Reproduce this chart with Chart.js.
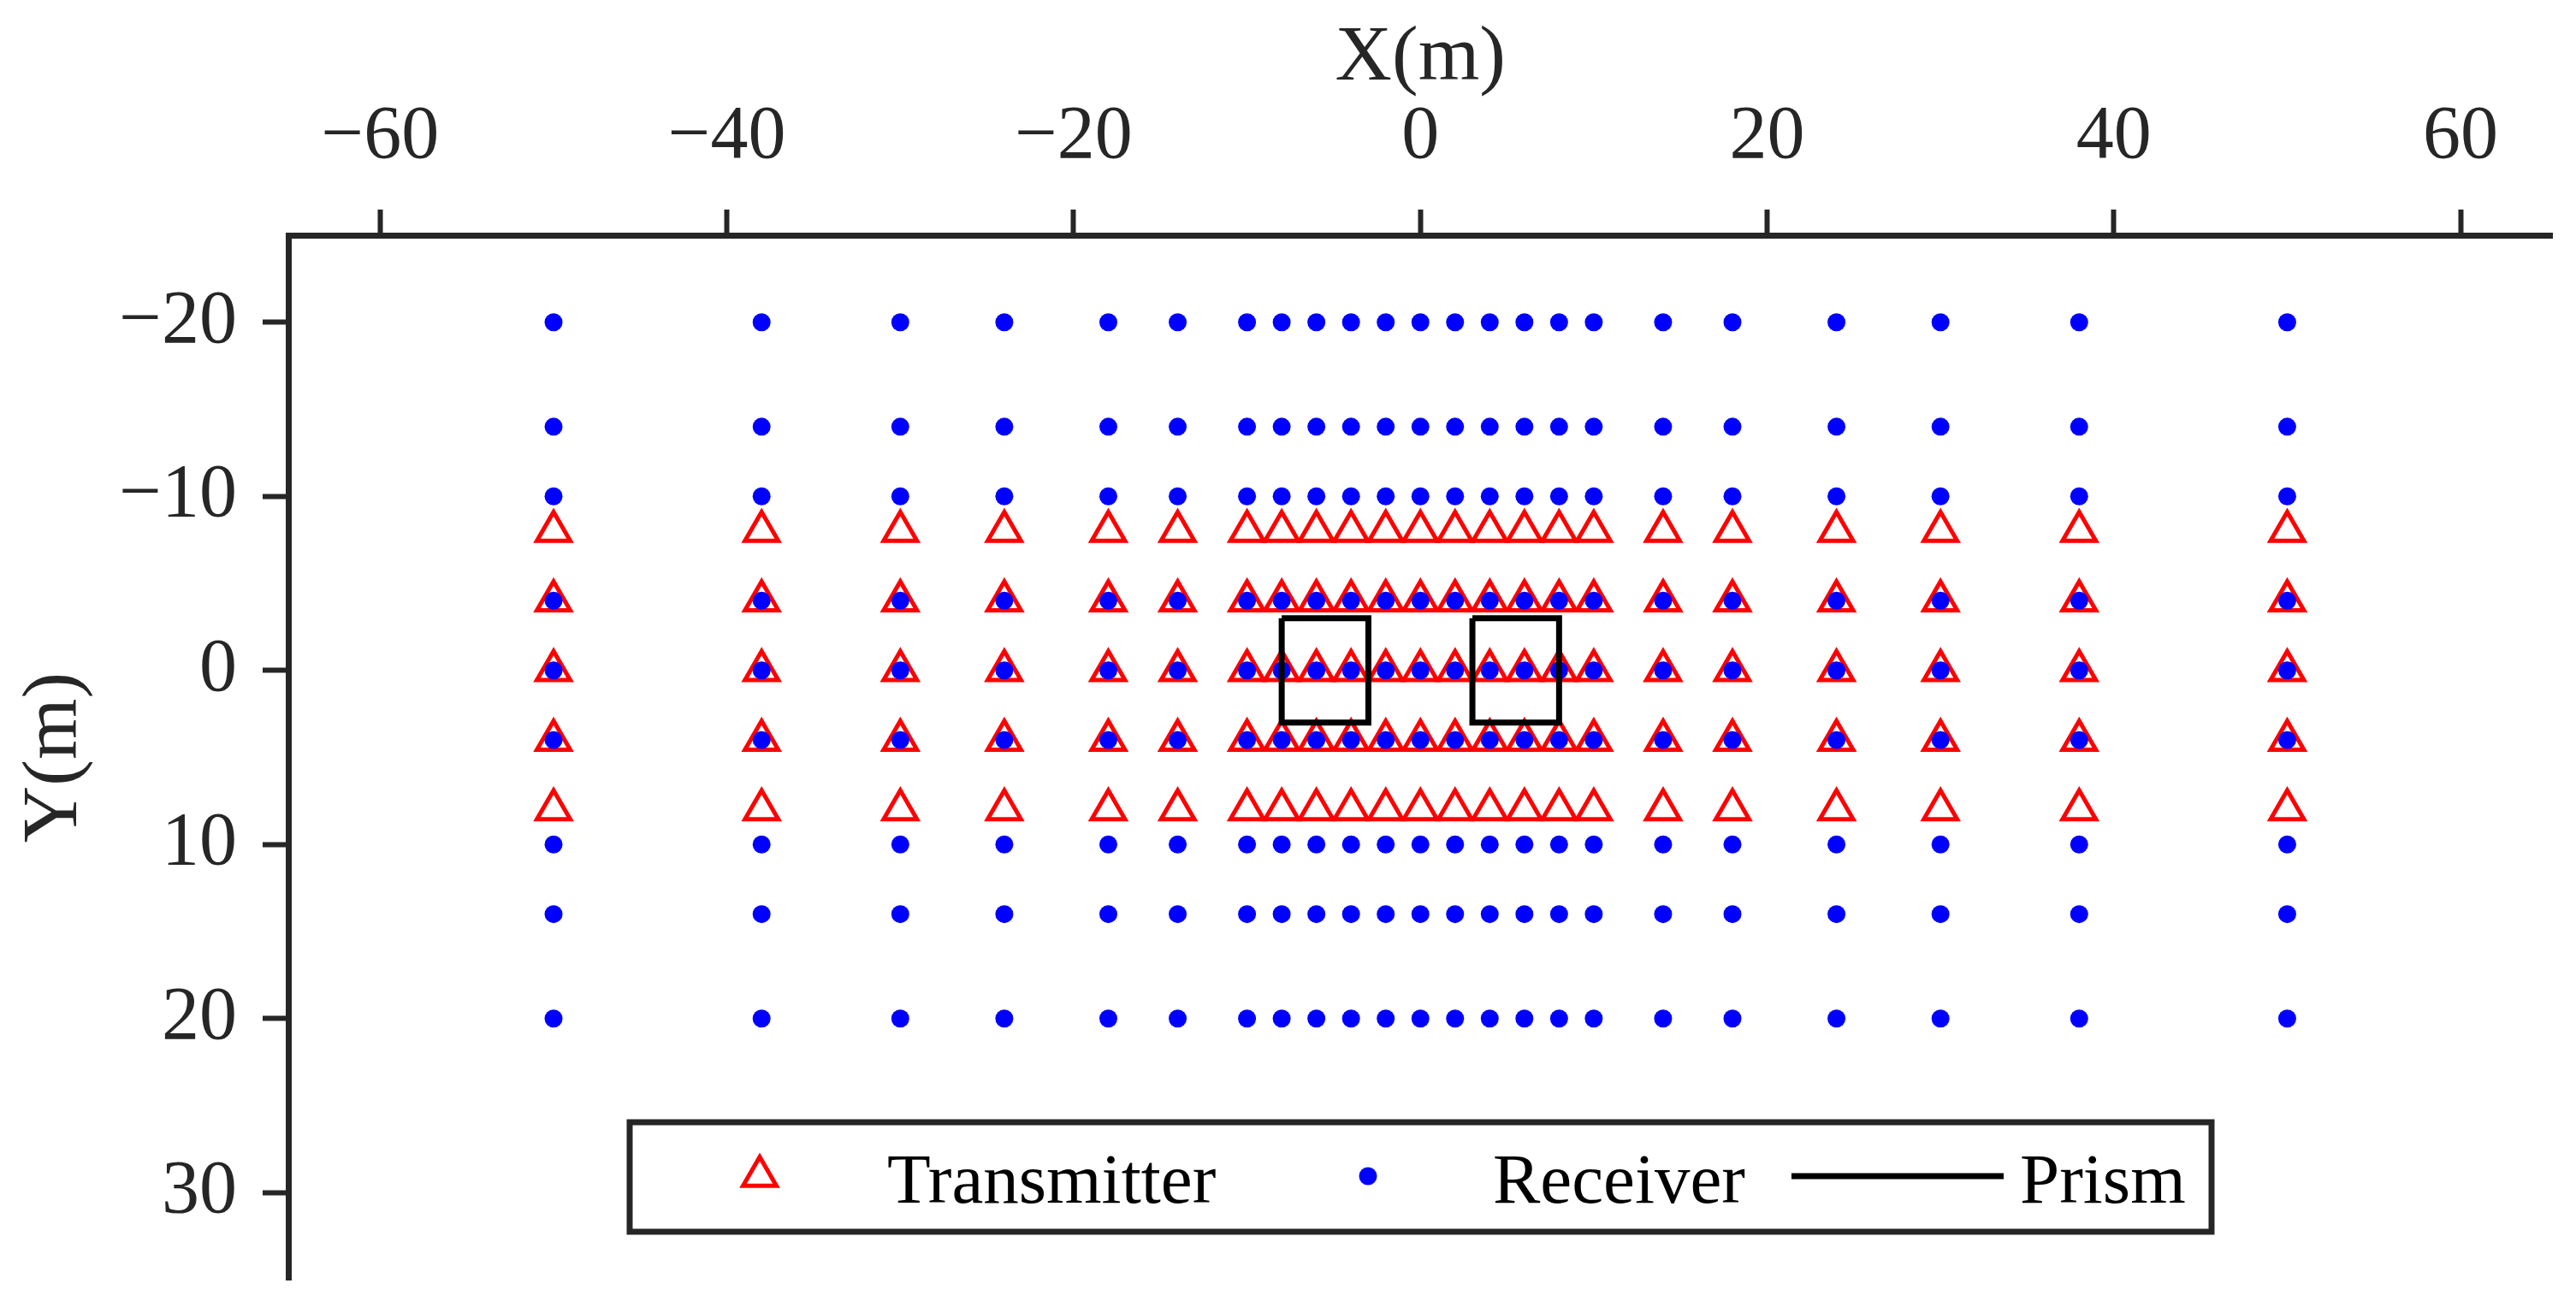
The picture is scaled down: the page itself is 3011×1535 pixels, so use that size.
<!DOCTYPE html>
<html>
<head>
<meta charset="utf-8">
<script src="https://cdn.jsdelivr.net/npm/chart.js@4.4.0/dist/chart.umd.min.js"></script>
<style>
    html, body { margin: 0; padding: 0; background: #fff; }
    #wrap { width: 3011px; height: 1535px; }
</style>
</head>
<body>
<div id="wrap"><canvas id="chartLayout" width="3011" height="1535"></canvas></div>
<script>
// ===== Layout: transmitters / receivers / prisms =====
const xColumns = [-50, -38, -30, -24, -18, -14, -10, -8, -6, -4, -2, 0, 2, 4, 6, 8, 10, 14, 18, 24, 30, 38, 50];
const yReceiverRows = [-20, -14, -10, -4, 0, 4, 10, 14, 20];
const yTransmitterRows = [-8, -4, 0, 4, 8];
// two prisms, outline closed, null = break between them
const prismX = [-8, -3, -3, -8, -8, null, 3, 8, 8, 3, 3];
const prismY = [-3, -3, 3, 3, -3, null, -3, -3, 3, 3, -3];
const xTicks = [-60, -40, -20, 0, 20, 40, 60];
const yTicks = [-20, -10, 0, 10, 20, 30];

const AXIS_COLOR = '#262626';
const FONT = '"Liberation Serif", "Times New Roman", serif';

const gridPoints = (xs, ys) => ys.flatMap(y => xs.map(x => ({ x, y })));
const fmtTick = v => v < 0 ? '\u2212' + Math.abs(v) : String(v);
const noPad = s => { s.paddingTop = 0; s.paddingBottom = 0; s.paddingLeft = 0; s.paddingRight = 0; };

// Leyenda con recuadro dentro del area del grafico
const legendBox = {
    id: 'legendBox',
    afterDraw(chart) {
        const ctx = chart.ctx;
        const ds = chart.data.datasets;
        const box = { left: 736, top: 1312, right: 2585, bottom: 1440 };
        const cy = 1375;
        const baseline = 1406;

        ctx.save();
        ctx.fillStyle = '#fff';
        ctx.fillRect(box.left, box.top, box.right - box.left, box.bottom - box.top);
        ctx.lineWidth = 7;
        ctx.strokeStyle = AXIS_COLOR;
        ctx.strokeRect(box.left, box.top, box.right - box.left, box.bottom - box.top);

        // Transmitter marker (same geometry as Chart.js triangle)
        const tri = ds[0];
        const r = tri.pointRadius;
        const mx = 888;
        ctx.beginPath();
        ctx.moveTo(mx, cy - r);
        ctx.lineTo(mx + Math.sin(2 * Math.PI / 3) * r, cy + r / 2);
        ctx.lineTo(mx - Math.sin(2 * Math.PI / 3) * r, cy + r / 2);
        ctx.closePath();
        ctx.lineWidth = tri.borderWidth;
        ctx.strokeStyle = tri.borderColor;
        ctx.stroke();

        // Receiver marker
        const rec = ds[1];
        ctx.beginPath();
        ctx.arc(1599, cy, rec.pointRadius, 0, Math.PI * 2);
        ctx.fillStyle = rec.backgroundColor;
        ctx.fill();

        // Prism line
        const pr = ds[2];
        ctx.beginPath();
        ctx.moveTo(2094, cy);
        ctx.lineTo(2342, cy);
        ctx.lineWidth = pr.borderWidth;
        ctx.strokeStyle = pr.borderColor;
        ctx.stroke();

        ctx.fillStyle = '#000';
        ctx.font = `83px ${FONT}`;
        ctx.textAlign = 'left';
        ctx.textBaseline = 'alphabetic';
        ctx.fillText(tri.label, 1037, baseline);
        ctx.fillText(rec.label, 1745, baseline);
        ctx.fillText(pr.label, 2361, baseline);
        ctx.restore();
    }
};

const ctx = document.getElementById('chartLayout').getContext('2d');
const chartLayout = new Chart(ctx, {
    type: 'scatter',
    data: {
        datasets: [
            {
                label: 'Transmitter',
                data: gridPoints(xColumns, yTransmitterRows),
                pointStyle: 'triangle',
                pointRadius: 22.5,
                backgroundColor: 'rgba(0,0,0,0)',
                borderColor: '#ff0000',
                borderWidth: 5,
                order: 3
            },
            {
                label: 'Receiver',
                data: gridPoints(xColumns, yReceiverRows),
                pointStyle: 'circle',
                pointRadius: 10.5,
                backgroundColor: '#0000ff',
                borderColor: '#0000ff',
                borderWidth: 0,
                order: 2
            },
            {
                label: 'Prism',
                data: prismX.map((x, i) => ({ x, y: prismY[i] })),
                showLine: true,
                spanGaps: false,
                pointRadius: 0,
                borderColor: '#000000',
                borderWidth: 7,
                borderJoinStyle: 'miter',
                order: 1
            }
        ]
    },
    options: {
        responsive: false,
        animation: false,
        layout: { padding: { left: 0, top: 0, right: 23, bottom: 39 } },
        plugins: {
            legend: { display: false },
            tooltip: { enabled: false }
        },
        scales: {
            x: {
                type: 'linear',
                position: 'top',
                min: -65.3,
                max: 65.3,
                afterBuildTicks: s => { s.ticks = xTicks.map(v => ({ value: v })); },
                afterFit: s => { s.height = 275; noPad(s); },
                ticks: {
                    callback: fmtTick,
                    font: { family: FONT, size: 88 },
                    color: AXIS_COLOR,
                    padding: 31,
                    maxRotation: 0,
                    autoSkip: false
                },
                grid: { drawOnChartArea: false, drawTicks: true, tickLength: 30, tickWidth: 6, tickColor: AXIS_COLOR },
                border: { display: true, color: AXIS_COLOR, width: 7 },
                title: {
                    display: true,
                    text: 'X(m)',
                    font: { family: FONT, size: 92 },
                    color: AXIS_COLOR,
                    padding: { top: 14, bottom: 0 }
                }
            },
            y: {
                type: 'linear',
                position: 'left',
                reverse: true,
                min: -25,
                max: 35,
                afterBuildTicks: s => { s.ticks = yTicks.map(v => ({ value: v })); },
                afterFit: s => { s.width = 337; noPad(s); },
                ticks: {
                    callback: fmtTick,
                    font: { family: FONT, size: 88 },
                    color: AXIS_COLOR,
                    padding: 30,
                    autoSkip: false
                },
                grid: { drawOnChartArea: false, drawTicks: true, tickLength: 30, tickWidth: 6, tickColor: AXIS_COLOR },
                border: { display: true, color: AXIS_COLOR, width: 7 },
                title: {
                    display: true,
                    text: 'Y(m)',
                    font: { family: FONT, size: 92 },
                    color: AXIS_COLOR,
                    padding: { top: 10, bottom: 0 }
                }
            }
        }
    },
    plugins: [legendBox]
});
</script>
</body>
</html>
